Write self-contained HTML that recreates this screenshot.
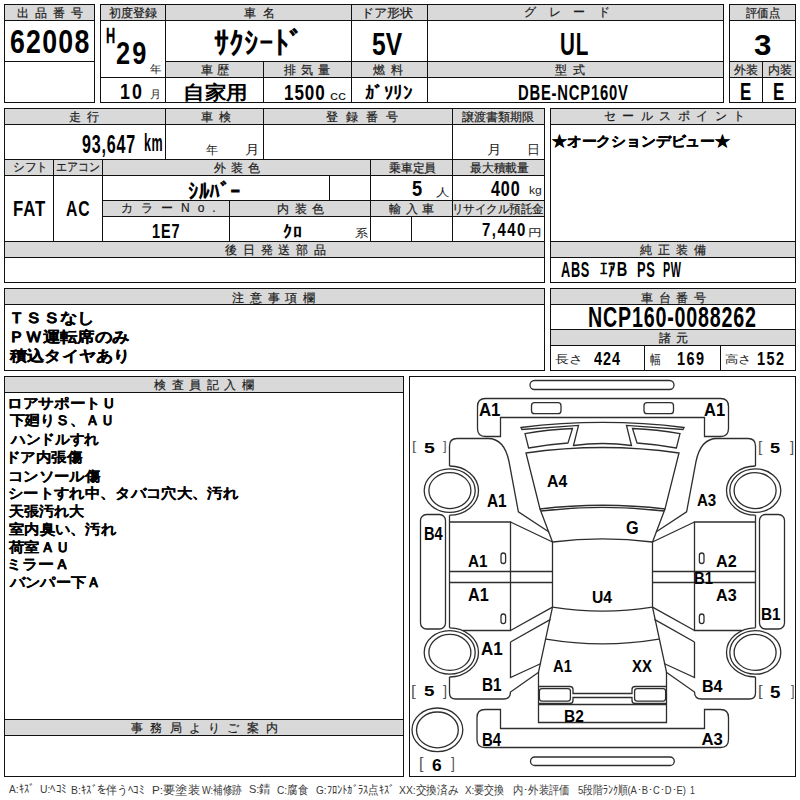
<!DOCTYPE html>
<html lang="ja"><head><meta charset="utf-8"><style>*{margin:0;padding:0;box-sizing:border-box}
html,body{width:800px;height:800px;overflow:hidden;background:#fff}
body{position:relative;font-family:"Liberation Sans",sans-serif}
.l{position:absolute;background:#111}
.f{position:absolute}
.t{position:absolute;line-height:1;white-space:pre;transform-origin:0 0}
</style></head><body>
<div class="f" style="left:5px;top:5px;width:89px;height:15px;background:#d9d9d9"></div>
<div class="f" style="left:101px;top:5px;width:622px;height:15px;background:#d9d9d9"></div>
<div class="f" style="left:166px;top:62px;width:557px;height:15px;background:#d9d9d9"></div>
<div class="f" style="left:730px;top:5px;width:65px;height:15px;background:#d9d9d9"></div>
<div class="f" style="left:730px;top:62px;width:65px;height:15px;background:#d9d9d9"></div>
<div class="f" style="left:5px;top:109px;width:539px;height:15px;background:#d9d9d9"></div>
<div class="f" style="left:5px;top:160px;width:539px;height:15px;background:#d9d9d9"></div>
<div class="f" style="left:103px;top:201px;width:441px;height:15px;background:#d9d9d9"></div>
<div class="f" style="left:5px;top:242px;width:539px;height:15px;background:#d9d9d9"></div>
<div class="f" style="left:551px;top:109px;width:244px;height:15px;background:#d9d9d9"></div>
<div class="f" style="left:551px;top:242px;width:244px;height:15px;background:#d9d9d9"></div>
<div class="f" style="left:5px;top:289px;width:539px;height:15px;background:#d9d9d9"></div>
<div class="f" style="left:551px;top:289px;width:244px;height:15px;background:#d9d9d9"></div>
<div class="f" style="left:551px;top:330px;width:244px;height:15px;background:#d9d9d9"></div>
<div class="f" style="left:5px;top:377px;width:398px;height:15px;background:#d9d9d9"></div>
<div class="f" style="left:5px;top:720px;width:398px;height:15px;background:#d9d9d9"></div>
<div class="l" style="left:4px;top:4px;width:91px;height:1px"></div>
<div class="l" style="left:4px;top:102px;width:91px;height:1px"></div>
<div class="l" style="left:4px;top:4px;width:1px;height:99px"></div>
<div class="l" style="left:94px;top:4px;width:1px;height:99px"></div>
<div class="l" style="left:4px;top:20px;width:91px;height:1px"></div>
<div class="l" style="left:4px;top:61px;width:91px;height:1px"></div>
<div class="l" style="left:100px;top:4px;width:624px;height:1px"></div>
<div class="l" style="left:100px;top:102px;width:624px;height:1px"></div>
<div class="l" style="left:100px;top:4px;width:1px;height:99px"></div>
<div class="l" style="left:723px;top:4px;width:1px;height:99px"></div>
<div class="l" style="left:100px;top:20px;width:624px;height:1px"></div>
<div class="l" style="left:165px;top:61px;width:559px;height:1px"></div>
<div class="l" style="left:100px;top:77px;width:624px;height:1px"></div>
<div class="l" style="left:165px;top:4px;width:1px;height:99px"></div>
<div class="l" style="left:351px;top:4px;width:1px;height:99px"></div>
<div class="l" style="left:427px;top:4px;width:1px;height:99px"></div>
<div class="l" style="left:263px;top:61px;width:1px;height:42px"></div>
<div class="l" style="left:729px;top:4px;width:67px;height:1px"></div>
<div class="l" style="left:729px;top:102px;width:67px;height:1px"></div>
<div class="l" style="left:729px;top:4px;width:1px;height:99px"></div>
<div class="l" style="left:795px;top:4px;width:1px;height:99px"></div>
<div class="l" style="left:729px;top:20px;width:67px;height:1px"></div>
<div class="l" style="left:729px;top:61px;width:67px;height:1px"></div>
<div class="l" style="left:729px;top:77px;width:67px;height:1px"></div>
<div class="l" style="left:762px;top:61px;width:1px;height:42px"></div>
<div class="l" style="left:4px;top:108px;width:541px;height:1px"></div>
<div class="l" style="left:4px;top:282px;width:541px;height:1px"></div>
<div class="l" style="left:4px;top:108px;width:1px;height:175px"></div>
<div class="l" style="left:544px;top:108px;width:1px;height:175px"></div>
<div class="l" style="left:4px;top:124px;width:541px;height:1px"></div>
<div class="l" style="left:4px;top:159px;width:541px;height:1px"></div>
<div class="l" style="left:4px;top:175px;width:541px;height:1px"></div>
<div class="l" style="left:4px;top:241px;width:541px;height:1px"></div>
<div class="l" style="left:4px;top:257px;width:541px;height:1px"></div>
<div class="l" style="left:102px;top:200px;width:443px;height:1px"></div>
<div class="l" style="left:102px;top:216px;width:443px;height:1px"></div>
<div class="l" style="left:165px;top:108px;width:1px;height:52px"></div>
<div class="l" style="left:263px;top:108px;width:1px;height:52px"></div>
<div class="l" style="left:452px;top:108px;width:1px;height:134px"></div>
<div class="l" style="left:53px;top:159px;width:1px;height:83px"></div>
<div class="l" style="left:102px;top:159px;width:1px;height:83px"></div>
<div class="l" style="left:370px;top:159px;width:1px;height:83px"></div>
<div class="l" style="left:329px;top:175px;width:1px;height:26px"></div>
<div class="l" style="left:229px;top:200px;width:1px;height:42px"></div>
<div class="l" style="left:411px;top:216px;width:1px;height:26px"></div>
<div class="l" style="left:550px;top:108px;width:246px;height:1px"></div>
<div class="l" style="left:550px;top:282px;width:246px;height:1px"></div>
<div class="l" style="left:550px;top:108px;width:1px;height:175px"></div>
<div class="l" style="left:795px;top:108px;width:1px;height:175px"></div>
<div class="l" style="left:550px;top:124px;width:246px;height:1px"></div>
<div class="l" style="left:550px;top:241px;width:246px;height:1px"></div>
<div class="l" style="left:550px;top:257px;width:246px;height:1px"></div>
<div class="l" style="left:4px;top:288px;width:541px;height:1px"></div>
<div class="l" style="left:4px;top:370px;width:541px;height:1px"></div>
<div class="l" style="left:4px;top:288px;width:1px;height:83px"></div>
<div class="l" style="left:544px;top:288px;width:1px;height:83px"></div>
<div class="l" style="left:4px;top:304px;width:541px;height:1px"></div>
<div class="l" style="left:550px;top:288px;width:246px;height:1px"></div>
<div class="l" style="left:550px;top:370px;width:246px;height:1px"></div>
<div class="l" style="left:550px;top:288px;width:1px;height:83px"></div>
<div class="l" style="left:795px;top:288px;width:1px;height:83px"></div>
<div class="l" style="left:550px;top:304px;width:246px;height:1px"></div>
<div class="l" style="left:550px;top:329px;width:246px;height:1px"></div>
<div class="l" style="left:550px;top:345px;width:246px;height:1px"></div>
<div class="l" style="left:644px;top:345px;width:1px;height:26px"></div>
<div class="l" style="left:720px;top:345px;width:1px;height:26px"></div>
<div class="l" style="left:4px;top:376px;width:400px;height:1px"></div>
<div class="l" style="left:4px;top:776px;width:400px;height:1px"></div>
<div class="l" style="left:4px;top:376px;width:1px;height:401px"></div>
<div class="l" style="left:403px;top:376px;width:1px;height:401px"></div>
<div class="l" style="left:4px;top:392px;width:400px;height:1px"></div>
<div class="l" style="left:4px;top:719px;width:400px;height:1px"></div>
<div class="l" style="left:4px;top:735px;width:400px;height:1px"></div>
<div class="l" style="left:409px;top:376px;width:387px;height:1px"></div>
<div class="l" style="left:409px;top:776px;width:387px;height:1px"></div>
<div class="l" style="left:409px;top:376px;width:1px;height:401px"></div>
<div class="l" style="left:795px;top:376px;width:1px;height:401px"></div>
<svg width="800" height="800" style="position:absolute;left:0;top:0"><g fill="none" stroke="#2e2e2e" stroke-width="1.3"><rect x="530" y="380.5" width="144" height="9" rx="4.5"/><rect x="530.5" y="757" width="143.75" height="8.5" rx="4.25"/><path d="M500.5,436.5V417.5H704.5V436.5H720.5Q728.5,436.5 728.5,428.5V406.5Q728.5,398.5 720.5,398.5H485.5Q477.5,398.5 477.5,406.5V428.5Q477.5,436.5 485.5,436.5Z"/><path d="M500.5,709.5V728.5H704.5V709.5H720.5Q728.5,709.5 728.5,717.5V739.5Q728.5,747.5 720.5,747.5H485Q477,747.5 477,739.5V717.5Q477,709.5 485,709.5Z"/><path d="M521,427.5Q602.5,417.4 684,427.5L683,429.5L626.5,425.4L631.5,445.5Q602.5,441.5 573.5,445.5L578.5,425.4L522,429.5Z"/><path d="M526,453Q602.5,442 679,453L665,509Q602.5,501.5 540,509Z"/><path d="M540.8,511Q602.5,503.8 664.2,511"/><path d="M540,509L552.5,542Q602.5,535.8 652.5,542L665,509"/><path d="M552.5,542V607.1Q602.5,615.2 652.5,607.1V542"/><path d="M552.5,607.1L538.5,672V722.5H666.5V672L652.5,607.1"/><path d="M546,639.2Q602.5,648.6 659,639.2"/><path d="M538.5,704.5H666.5"/><path d="M538.5,686.5H570Q573,686.5 573,689.5V693.5H632V689.5Q632,686.5 635,686.5H666.5M538.5,703.4H570Q573,703.4 573,700.4V697.5H632V700.4Q632,703.4 635,703.4H666.5"/><rect x="531.5" y="402.7" width="29.5" height="11" rx="3"/><rect x="539.4" y="688.6" width="31" height="12.5" rx="2.5"/><path d="M525,433.6Q548,429.5 572.5,428.5L568,443Q547,444.5 528.6,448Z"/><path d="M449.5,466V446Q449.5,438.5 457,438.5H488C499,438.5 506,447 509,461.5L518.4,511.9L549,532"/><path d="M449.5,515.2L449.5,627.8"/><path d="M449.5,522H510.5V630.5H463"/><path d="M510.5,522L552.5,542"/><path d="M510.5,630.5L552.5,607.1"/><path d="M449.5,571.5H552.5M449.5,582.5H552.5"/><rect x="501" y="553" width="4.6" height="10.5" rx="2.3"/><rect x="501" y="614" width="4.6" height="9.6" rx="2.3"/><rect x="420.5" y="514.5" width="25" height="114.5" rx="6"/><ellipse cx="449.7" cy="490.6" rx="25.5" ry="21.8"/><ellipse cx="449.9" cy="490.6" rx="21" ry="18"/><ellipse cx="449.7" cy="652.4" rx="25.5" ry="21.8"/><ellipse cx="449.9" cy="652.4" rx="21" ry="18"/><path d="M449.5,466A29,24.6 0 0 1 449.5,515.2M449.5,627.8A29,24.6 0 0 1 449.5,677"/><path d="M510.5,642L550.6,619.4"/><path d="M510.5,642V677.5L541,663.5"/><path d="M449.5,677V693Q449.5,699 455.6,699H503.5Q510.5,699 510.5,692L539,672"/><g transform="matrix(-1,0,0,1,1205,0)"><rect x="531.5" y="402.7" width="29.5" height="11" rx="3"/><rect x="539.4" y="688.6" width="31" height="12.5" rx="2.5"/><path d="M525,433.6Q548,429.5 572.5,428.5L568,443Q547,444.5 528.6,448Z"/><path d="M449.5,466V446Q449.5,438.5 457,438.5H488C499,438.5 506,447 509,461.5L518.4,511.9L549,532"/><path d="M449.5,515.2L449.5,627.8"/><path d="M449.5,522H510.5V630.5H463"/><path d="M510.5,522L552.5,542"/><path d="M510.5,630.5L552.5,607.1"/><path d="M449.5,571.5H552.5M449.5,582.5H552.5"/><rect x="501" y="553" width="4.6" height="10.5" rx="2.3"/><rect x="501" y="614" width="4.6" height="9.6" rx="2.3"/><rect x="420.5" y="514.5" width="25" height="114.5" rx="6"/><ellipse cx="449.7" cy="490.6" rx="25.5" ry="21.8"/><ellipse cx="449.9" cy="490.6" rx="21" ry="18"/><ellipse cx="449.7" cy="652.4" rx="25.5" ry="21.8"/><ellipse cx="449.9" cy="652.4" rx="21" ry="18"/><path d="M449.5,466A29,24.6 0 0 1 449.5,515.2M449.5,627.8A29,24.6 0 0 1 449.5,677"/><path d="M510.5,642L550.6,619.4"/><path d="M510.5,642V677.5L541,663.5"/><path d="M449.5,677V693Q449.5,699 455.6,699H503.5Q510.5,699 510.5,692L539,672"/></g><ellipse cx="437.4" cy="729.8" rx="25.4" ry="21.8"/><ellipse cx="437.4" cy="729.9" rx="20.9" ry="17.9"/></g></svg>
<div class="t" style="left:17px;top:7px;font-size:12px;color:#1c1c1c;-webkit-text-stroke:0.2px #1c1c1c;letter-spacing:6.0px">出品番号</div>
<div class="t" style="left:109px;top:7px;font-size:12px;color:#1c1c1c;-webkit-text-stroke:0.2px #1c1c1c">初度登録</div>
<div class="t" style="left:244px;top:7px;font-size:12px;color:#1c1c1c;-webkit-text-stroke:0.2px #1c1c1c;letter-spacing:7.0px">車名</div>
<div class="t" style="left:361px;top:7px;font-size:12px;color:#1c1c1c;-webkit-text-stroke:0.2px #1c1c1c;transform:scaleX(1.0909)">ドア形状</div>
<div class="t" style="left:524px;top:6px;font-size:12px;color:#1c1c1c;-webkit-text-stroke:0.2px #1c1c1c;letter-spacing:12.667px">グレード</div>
<div class="t" style="left:746px;top:7px;font-size:12px;color:#1c1c1c;-webkit-text-stroke:0.2px #1c1c1c;transform:scaleX(0.9444)">評価点</div>
<div class="t" style="left:201px;top:64px;font-size:12px;color:#1c1c1c;-webkit-text-stroke:0.2px #1c1c1c;letter-spacing:4.0px">車歴</div>
<div class="t" style="left:284px;top:64px;font-size:12px;color:#1c1c1c;-webkit-text-stroke:0.2px #1c1c1c;letter-spacing:5.0px">排気量</div>
<div class="t" style="left:373px;top:64px;font-size:12px;color:#1c1c1c;-webkit-text-stroke:0.2px #1c1c1c;letter-spacing:5.5px">燃料</div>
<div class="t" style="left:555px;top:64px;font-size:12px;color:#1c1c1c;-webkit-text-stroke:0.2px #1c1c1c;letter-spacing:6.0px">型式</div>
<div class="t" style="left:734px;top:64px;font-size:12px;color:#1c1c1c;-webkit-text-stroke:0.2px #1c1c1c">外装</div>
<div class="t" style="left:768px;top:64px;font-size:12px;color:#1c1c1c;-webkit-text-stroke:0.2px #1c1c1c">内装</div>
<div class="t" style="left:10px;top:25px;font-size:33.4px;color:#000;font-weight:bold;transform:scaleX(0.8);letter-spacing:1.562px">62008</div>
<div class="t" style="left:106px;top:25px;font-size:22.32px;color:#000;font-weight:bold;-webkit-text-stroke:0.3px #000;transform:scaleX(0.5714)">H</div>
<div class="t" style="left:116px;top:38px;font-size:30.56px;color:#000;font-weight:bold;transform:scaleX(0.8296);letter-spacing:2.5px">29</div>
<div class="t" style="left:150px;top:63.6px;font-size:10.68px;color:#222;transform:scaleX(1.04)">年</div>
<div class="t" style="left:120px;top:81px;font-size:22.32px;color:#000;font-weight:bold;transform:scaleX(0.8);letter-spacing:2.5px">10</div>
<div class="t" style="left:150px;top:89px;font-size:10.68px;color:#222">月</div>
<div class="t" style="left:214px;top:28px;font-size:31.37px;color:#000;font-weight:bold;transform:scaleX(0.9432)">ｻｸｼｰﾄﾞ</div>
<div class="t" style="left:183px;top:83px;font-size:19.28px;color:#000;font-weight:bold;transform:scaleX(1.1321)">自家用</div>
<div class="t" style="left:284px;top:82px;font-size:22.32px;color:#000;font-weight:bold;transform:scaleX(0.7632);letter-spacing:1.2px">1500</div>
<div class="t" style="left:330px;top:89px;font-size:13.61px;color:#222;transform:scaleX(1.1667)">cc</div>
<div class="t" style="left:372px;top:29px;font-size:30.56px;color:#000;font-weight:bold;transform:scaleX(0.8056)">5V</div>
<div class="t" style="left:365px;top:85px;font-size:17.61px;color:#000;font-weight:bold;transform:scaleX(1.0455)">ｶﾞｿﾘﾝ</div>
<div class="t" style="left:560px;top:29px;font-size:30.56px;color:#000;font-weight:bold;transform:scaleX(0.6758);letter-spacing:1.2px">UL</div>
<div class="t" style="left:518px;top:82px;font-size:22.32px;color:#000;font-weight:bold;transform:scaleX(0.6626);letter-spacing:1.2px">DBE-NCP160V</div>
<div class="t" style="left:754px;top:31px;font-size:29.23px;color:#000;font-weight:bold;transform:scaleX(1.0714)">3</div>
<div class="t" style="left:740px;top:81px;font-size:23.61px;color:#000;font-weight:bold;transform:scaleX(0.7143)">E</div>
<div class="t" style="left:773px;top:81px;font-size:23.61px;color:#000;font-weight:bold;transform:scaleX(0.7143)">E</div>
<div class="t" style="left:69px;top:111px;font-size:12px;color:#1c1c1c;-webkit-text-stroke:0.2px #1c1c1c;letter-spacing:6.0px">走行</div>
<div class="t" style="left:201px;top:111px;font-size:12px;color:#1c1c1c;-webkit-text-stroke:0.2px #1c1c1c;letter-spacing:6.0px">車検</div>
<div class="t" style="left:326px;top:111px;font-size:12px;color:#1c1c1c;-webkit-text-stroke:0.2px #1c1c1c;letter-spacing:8.0px">登録番号</div>
<div class="t" style="left:462px;top:111px;font-size:12px;color:#1c1c1c;-webkit-text-stroke:0.2px #1c1c1c">譲渡書類期限</div>
<div class="t" style="left:604px;top:110px;font-size:12px;color:#1c1c1c;-webkit-text-stroke:0.2px #1c1c1c;letter-spacing:6.429px">セールスポイント</div>
<div class="t" style="left:13px;top:161px;font-size:12px;color:#1c1c1c;-webkit-text-stroke:0.2px #1c1c1c;transform:scaleX(0.9677)">シフト</div>
<div class="t" style="left:56px;top:161px;font-size:12px;color:#1c1c1c;-webkit-text-stroke:0.2px #1c1c1c;transform:scaleX(0.913)">エアコン</div>
<div class="t" style="left:214px;top:162px;font-size:12px;color:#1c1c1c;-webkit-text-stroke:0.2px #1c1c1c;letter-spacing:5.0px">外装色</div>
<div class="t" style="left:389px;top:162px;font-size:12px;color:#1c1c1c;-webkit-text-stroke:0.2px #1c1c1c;transform:scaleX(0.9796)">乗車定員</div>
<div class="t" style="left:470px;top:162px;font-size:12px;color:#1c1c1c;-webkit-text-stroke:0.2px #1c1c1c;transform:scaleX(0.9833)">最大積載量</div>
<div class="t" style="left:121px;top:202px;font-size:12px;color:#1c1c1c;-webkit-text-stroke:0.2px #1c1c1c;letter-spacing:8.0px">カラーNo.</div>
<div class="t" style="left:277px;top:203px;font-size:12px;color:#1c1c1c;-webkit-text-stroke:0.2px #1c1c1c;letter-spacing:5.5px">内装色</div>
<div class="t" style="left:389px;top:203px;font-size:12px;color:#1c1c1c;-webkit-text-stroke:0.2px #1c1c1c;letter-spacing:4.5px">輸入車</div>
<div class="t" style="left:452px;top:203px;font-size:12px;color:#1c1c1c;-webkit-text-stroke:0.2px #1c1c1c;transform:scaleX(0.9565)">リサイクル預託金</div>
<div class="t" style="left:225px;top:244px;font-size:12px;color:#1c1c1c;-webkit-text-stroke:0.2px #1c1c1c;letter-spacing:5.8px">後日発送部品</div>
<div class="t" style="left:640px;top:244px;font-size:12px;color:#1c1c1c;-webkit-text-stroke:0.2px #1c1c1c;letter-spacing:6.0px">純正装備</div>
<div class="t" style="left:82px;top:131.5px;font-size:25.1px;color:#000;font-weight:bold;transform:scaleX(0.642);letter-spacing:1.2px">93,647</div>
<div class="t" style="left:144px;top:131.3px;font-size:24.36px;color:#000;font-weight:bold;transform:scaleX(0.5134);letter-spacing:1.2px">km</div>
<div class="t" style="left:206px;top:144px;font-size:12.0px;color:#222">年</div>
<div class="t" style="left:245px;top:143px;font-size:13.2px;color:#222;transform:scaleX(1.1111)">月</div>
<div class="t" style="left:487px;top:143px;font-size:13.2px;color:#222;transform:scaleX(1.1111)">月</div>
<div class="t" style="left:527px;top:143px;font-size:13.2px;color:#222">日</div>
<div class="t" style="left:13px;top:198px;font-size:22.32px;color:#000;font-weight:bold;transform:scaleX(0.7533);letter-spacing:1.2px">FAT</div>
<div class="t" style="left:66px;top:198px;font-size:22.32px;color:#000;font-weight:bold;transform:scaleX(0.7051);letter-spacing:1.2px">AC</div>
<div class="t" style="left:188px;top:181px;font-size:21.66px;color:#000;font-weight:bold;transform:scaleX(0.9623)">ｼﾙﾊﾞｰ</div>
<div class="t" style="left:412px;top:178px;font-size:22.32px;color:#000;font-weight:bold;transform:scaleX(0.8182)">5</div>
<div class="t" style="left:436px;top:187px;font-size:10.55px;color:#222;transform:scaleX(1.2222)">人</div>
<div class="t" style="left:491px;top:178px;font-size:22.32px;color:#000;font-weight:bold;transform:scaleX(0.7245);letter-spacing:1.2px">400</div>
<div class="t" style="left:529px;top:185px;font-size:11.0px;color:#222;transform:scaleX(1.1)">kg</div>
<div class="t" style="left:152px;top:222px;font-size:19.44px;color:#000;font-weight:bold;transform:scaleX(0.745);letter-spacing:1.2px">1E7</div>
<div class="t" style="left:283px;top:224px;font-size:17.01px;color:#000;font-weight:bold;transform:scaleX(1.0625)">ｸﾛ</div>
<div class="t" style="left:355px;top:228px;font-size:11.02px;color:#222;transform:scaleX(1.2)">系</div>
<div class="t" style="left:482px;top:221px;font-size:18.71px;color:#000;font-weight:bold;transform:scaleX(0.8);letter-spacing:1.875px">7,440</div>
<div class="t" style="left:528px;top:228px;font-size:9.71px;color:#222;transform:scaleX(1.375)">円</div>
<div class="t" style="left:552px;top:134px;font-size:14.33px;color:#000;font-weight:bold;-webkit-text-stroke:0.3px #000;transform:scaleX(1.0595)">★オークションデビュー★</div>
<div class="t" style="left:560.5px;top:259px;font-size:22.32px;color:#000;font-weight:bold;transform:scaleX(0.5717);letter-spacing:1.2px">ABS</div>
<div class="t" style="left:600px;top:260px;font-size:19.53px;color:#000;font-weight:bold;transform:scaleX(0.7469);letter-spacing:1.2px">ｴｱB</div>
<div class="t" style="left:636.5px;top:259px;font-size:22.32px;color:#000;font-weight:bold;transform:scaleX(0.5749);letter-spacing:1.2px">PS</div>
<div class="t" style="left:662.75px;top:259px;font-size:22.32px;color:#000;font-weight:bold;transform:scaleX(0.4834);letter-spacing:1.2px">PW</div>
<div class="t" style="left:232px;top:292px;font-size:12px;color:#1c1c1c;-webkit-text-stroke:0.2px #1c1c1c;letter-spacing:5.75px">注意事項欄</div>
<div class="t" style="left:641px;top:292px;font-size:12px;color:#1c1c1c;-webkit-text-stroke:0.2px #1c1c1c;letter-spacing:5.667px">車台番号</div>
<div class="t" style="left:659px;top:332px;font-size:12px;color:#1c1c1c;-webkit-text-stroke:0.2px #1c1c1c;letter-spacing:5.0px">諸元</div>
<div class="t" style="left:8px;top:310.4px;font-size:15px;color:#000;font-weight:bold;-webkit-text-stroke:0.25px #000;transform:scaleX(1.1573)">ＴＳＳなし</div>
<div class="t" style="left:8px;top:328.9px;font-size:15px;color:#000;font-weight:bold;-webkit-text-stroke:0.25px #000;transform:scaleX(1.1569)">ＰＷ運転席のみ</div>
<div class="t" style="left:10px;top:348.1px;font-size:15px;color:#000;font-weight:bold;-webkit-text-stroke:0.25px #000;transform:scaleX(1.1456)">積込タイヤあり</div>
<div class="t" style="left:588px;top:303px;font-size:29.24px;color:#000;font-weight:bold;transform:scaleX(0.6731);letter-spacing:1.2px">NCP160-0088262</div>
<div class="t" style="left:555px;top:354px;font-size:11.0px;color:#222;transform:scaleX(1.2632)">長さ</div>
<div class="t" style="left:594px;top:350px;font-size:18.06px;color:#000;font-weight:bold;transform:scaleX(0.8);letter-spacing:1.25px">424</div>
<div class="t" style="left:650px;top:354px;font-size:12.5px;color:#222;transform:scaleX(0.8333)">幅</div>
<div class="t" style="left:677px;top:350px;font-size:18.06px;color:#000;font-weight:bold;transform:scaleX(0.8);letter-spacing:1.875px">169</div>
<div class="t" style="left:725px;top:354px;font-size:11.2px;color:#222;transform:scaleX(1.2105)">高さ</div>
<div class="t" style="left:757px;top:350px;font-size:18.06px;color:#000;font-weight:bold;transform:scaleX(0.8);letter-spacing:1.875px">152</div>
<div class="t" style="left:154px;top:379px;font-size:12px;color:#1c1c1c;-webkit-text-stroke:0.2px #1c1c1c;letter-spacing:5.6px">検査員記入欄</div>
<div class="t" style="left:131px;top:722px;font-size:12px;color:#1c1c1c;-webkit-text-stroke:0.2px #1c1c1c;letter-spacing:7.286px">事務局よりご案内</div>
<div class="t" style="left:7px;top:396px;font-size:14px;color:#000;font-weight:bold;-webkit-text-stroke:0.1px #000;transform:scaleX(1.1183)">ロアサポートＵ</div>
<div class="t" style="left:10px;top:413px;font-size:14px;color:#000;font-weight:bold;-webkit-text-stroke:0.1px #000;transform:scaleX(1.0737)">下廻りＳ、ＡＵ</div>
<div class="t" style="left:11px;top:432px;font-size:14px;color:#000;font-weight:bold;-webkit-text-stroke:0.1px #000;transform:scaleX(1.0471)">ハンドルすれ</div>
<div class="t" style="left:5px;top:450px;font-size:14px;color:#000;font-weight:bold;-webkit-text-stroke:0.1px #000;transform:scaleX(1.1061)">ドア内張傷</div>
<div class="t" style="left:8px;top:469px;font-size:14px;color:#000;font-weight:bold;-webkit-text-stroke:0.1px #000;transform:scaleX(1.0977)">コンソール傷</div>
<div class="t" style="left:8px;top:486px;font-size:14px;color:#000;font-weight:bold;-webkit-text-stroke:0.1px #000;transform:scaleX(1.0957)">シートすれ中、タバコ穴大、汚れ</div>
<div class="t" style="left:9px;top:504px;font-size:14px;color:#000;font-weight:bold;-webkit-text-stroke:0.1px #000;transform:scaleX(1.0714)">天張汚れ大</div>
<div class="t" style="left:9px;top:522px;font-size:14px;color:#000;font-weight:bold;-webkit-text-stroke:0.1px #000;transform:scaleX(1.0919)">室内臭い、汚れ</div>
<div class="t" style="left:9px;top:540px;font-size:14px;color:#000;font-weight:bold;-webkit-text-stroke:0.1px #000;transform:scaleX(1.0943)">荷室ＡＵ</div>
<div class="t" style="left:6px;top:557px;font-size:14px;color:#000;font-weight:bold;-webkit-text-stroke:0.1px #000;transform:scaleX(1.1403)">ミラーＡ</div>
<div class="t" style="left:10px;top:575px;font-size:14px;color:#000;font-weight:bold;-webkit-text-stroke:0.1px #000;transform:scaleX(1.0854)">バンパー下Ａ</div>
<div class="t" style="left:479.2px;top:402.2px;font-size:17.81px;color:#000;font-weight:bold;transform:scaleX(0.9429)">A1</div>
<div class="t" style="left:704px;top:402.2px;font-size:17.81px;color:#000;font-weight:bold;transform:scaleX(0.9286)">A1</div>
<div class="t" style="left:424px;top:442px;font-size:13.78px;color:#000;font-weight:bold;transform:scaleX(1.4167)">5</div>
<div class="t" style="left:770.25px;top:440px;font-size:15.41px;color:#000;font-weight:bold;transform:scaleX(1.1786)">5</div>
<div class="t" style="left:547px;top:473.7px;font-size:16.57px;color:#000;font-weight:bold;transform:scaleX(0.9524)">A4</div>
<div class="t" style="left:487px;top:492.5px;font-size:17.73px;color:#000;font-weight:bold;transform:scaleX(0.869)">A1</div>
<div class="t" style="left:697px;top:492.75px;font-size:15.65px;color:#000;font-weight:bold;transform:scaleX(0.9625)">A3</div>
<div class="t" style="left:423.75px;top:524.75px;font-size:18.45px;color:#000;font-weight:bold;transform:scaleX(0.7935)">B4</div>
<div class="t" style="left:625.6px;top:519.65px;font-size:17.73px;color:#000;font-weight:bold;transform:scaleX(0.9167)">G</div>
<div class="t" style="left:467.6px;top:553.6px;font-size:16.57px;color:#000;font-weight:bold;transform:scaleX(0.919)">A1</div>
<div class="t" style="left:467.6px;top:585.9px;font-size:18.45px;color:#000;font-weight:bold;transform:scaleX(0.8773)">A1</div>
<div class="t" style="left:715.5px;top:552.5px;font-size:17.39px;color:#000;font-weight:bold;transform:scaleX(0.9286)">A2</div>
<div class="t" style="left:693.5px;top:571px;font-size:15.65px;color:#000;font-weight:bold;transform:scaleX(0.9474)">B1</div>
<div class="t" style="left:715.5px;top:586.75px;font-size:17.39px;color:#000;font-weight:bold;transform:scaleX(0.9286)">A3</div>
<div class="t" style="left:591.6px;top:588.85px;font-size:16.25px;color:#000;font-weight:bold;transform:scaleX(0.965)">U4</div>
<div class="t" style="left:761px;top:605.5px;font-size:17.39px;color:#000;font-weight:bold;transform:scaleX(0.881)">B1</div>
<div class="t" style="left:481px;top:641.3px;font-size:17.81px;color:#000;font-weight:bold;transform:scaleX(0.9524)">A1</div>
<div class="t" style="left:552.9px;top:657.6px;font-size:16.25px;color:#000;font-weight:bold;transform:scaleX(0.9095)">A1</div>
<div class="t" style="left:632px;top:657.6px;font-size:16.25px;color:#000;font-weight:bold;transform:scaleX(0.9167)">XX</div>
<div class="t" style="left:482.4px;top:677.4px;font-size:17.51px;color:#000;font-weight:bold;transform:scaleX(0.8738)">B1</div>
<div class="t" style="left:702px;top:678px;font-size:16.48px;color:#000;font-weight:bold;transform:scaleX(0.975)">B4</div>
<div class="t" style="left:423.75px;top:683px;font-size:15.05px;color:#000;font-weight:bold;transform:scaleX(1.25)">5</div>
<div class="t" style="left:769.5px;top:685px;font-size:16.67px;color:#000;font-weight:bold;transform:scaleX(1.125)">5</div>
<div class="t" style="left:564px;top:708px;font-size:16.48px;color:#000;font-weight:bold;transform:scaleX(0.9375)">B2</div>
<div class="t" style="left:481.5px;top:732px;font-size:17.6px;color:#000;font-weight:bold;transform:scaleX(0.8523)">B4</div>
<div class="t" style="left:701.5px;top:732px;font-size:16.67px;color:#000;font-weight:bold">A3</div>
<div class="t" style="left:432px;top:757px;font-size:17.39px;color:#000;font-weight:bold">6</div>
<div class="t" style="left:411.5px;top:439.4px;font-size:13.12px;color:#555;transform:scaleX(1.1667)">[</div>
<div class="t" style="left:758px;top:439.25px;font-size:15.17px;color:#555">[</div>
<div class="t" style="left:410.6px;top:683.5px;font-size:14.84px;color:#555;transform:scaleX(1.1333)">[</div>
<div class="t" style="left:757.75px;top:683px;font-size:15.17px;color:#555;transform:scaleX(1.0833)">[</div>
<div class="t" style="left:419px;top:756px;font-size:15.92px;color:#555">[</div>
<div class="t" style="left:443px;top:439.4px;font-size:13.12px;color:#555">]</div>
<div class="t" style="left:790px;top:439.25px;font-size:15.17px;color:#555">]</div>
<div class="t" style="left:443px;top:683.5px;font-size:14.84px;color:#555">]</div>
<div class="t" style="left:790.5px;top:683px;font-size:15.17px;color:#555;transform:scaleX(0.8333)">]</div>
<div class="t" style="left:450.5px;top:756px;font-size:15.92px;color:#555;transform:scaleX(0.875)">]</div>
<div class="t" style="left:8.75px;top:784.3px;font-size:11.5px;color:#3a3a3a;transform:scaleX(0.8789)">A:ｷｽﾞ</div>
<div class="t" style="left:39.5px;top:784.3px;font-size:11.5px;color:#3a3a3a;transform:scaleX(0.9036)">U:ﾍｺﾐ</div>
<div class="t" style="left:71.2px;top:785.3px;font-size:11.5px;color:#3a3a3a;transform:scaleX(0.9064)">B:ｷｽﾞを伴うﾍｺﾐ</div>
<div class="t" style="left:152.1px;top:785.3px;font-size:11.5px;color:#3a3a3a;transform:scaleX(1.0201)">P:要塗装</div>
<div class="t" style="left:201.7px;top:785.3px;font-size:11.5px;color:#3a3a3a;transform:scaleX(0.8042)">W:補修跡</div>
<div class="t" style="left:248.8px;top:784.3px;font-size:11.5px;color:#3a3a3a;transform:scaleX(0.9581)">S:錆</div>
<div class="t" style="left:277.2px;top:785.3px;font-size:11.5px;color:#3a3a3a;transform:scaleX(0.8769)">C:腐食</div>
<div class="t" style="left:315.5px;top:785.3px;font-size:11.5px;color:#3a3a3a;transform:scaleX(0.8688)">G:ﾌﾛﾝﾄｶﾞﾗｽ点ｷｽﾞ</div>
<div class="t" style="left:399px;top:785.3px;font-size:11.5px;color:#3a3a3a;transform:scaleX(0.8971)">XX:交換済み</div>
<div class="t" style="left:464.7px;top:785.3px;font-size:11.5px;color:#3a3a3a;transform:scaleX(0.8424)">X:要交換</div>
<div class="t" style="left:512.75px;top:785.3px;font-size:11.5px;color:#3a3a3a;transform:scaleX(0.8594)">内･外装評価</div>
<div class="t" style="left:577.5px;top:785.3px;font-size:11.5px;color:#3a3a3a;transform:scaleX(0.8193)">5段階ﾗﾝｸ順(A･B･C･D･E)</div>
<div class="t" style="left:690.25px;top:784.5px;font-size:11.5px;color:#3a3a3a;transform:scaleX(0.7628)">1</div>
</body></html>
